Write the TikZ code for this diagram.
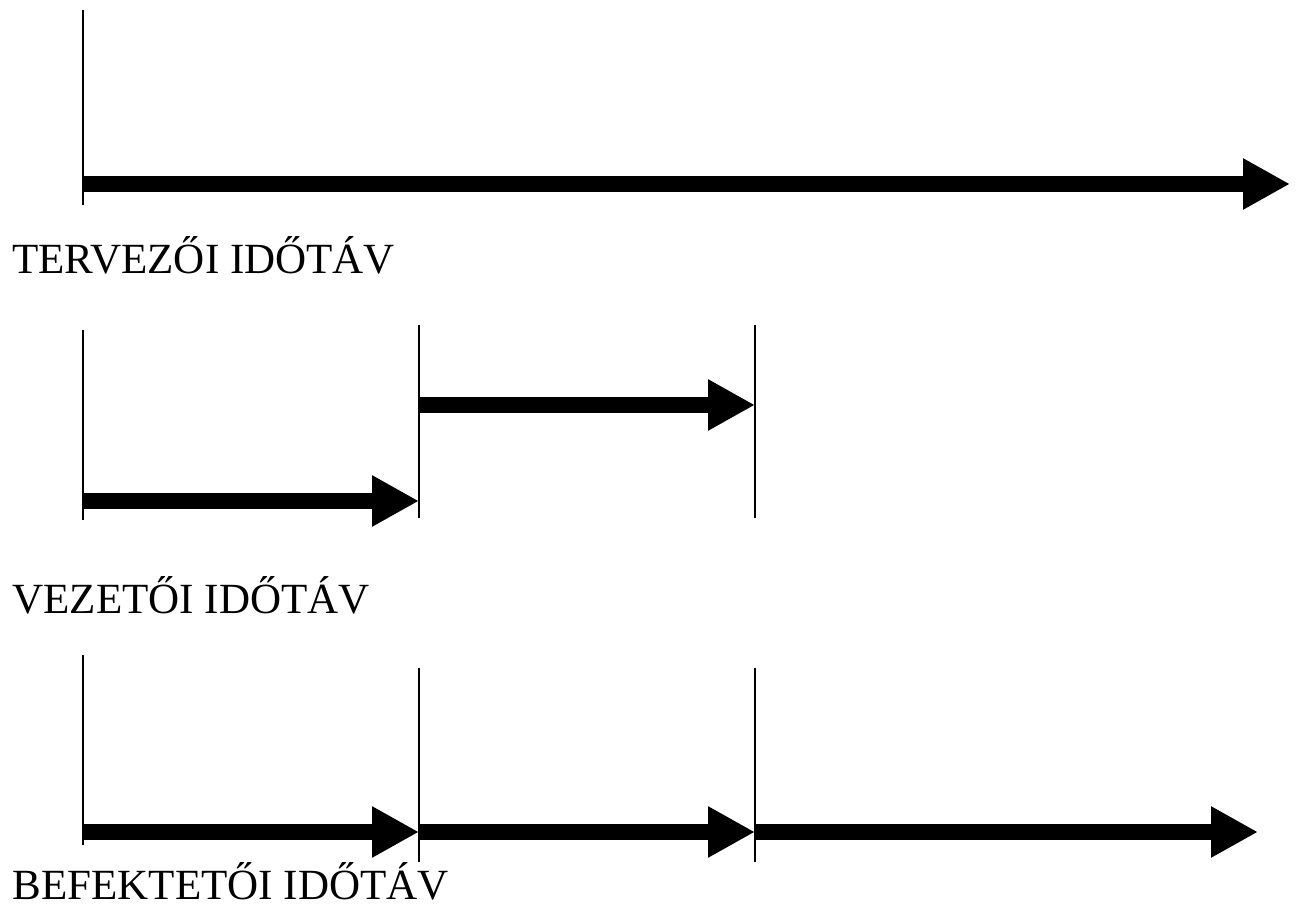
\documentclass[tikz,border=0pt]{standalone}
\usepackage{fontspec}
\setmainfont{Liberation Serif}
\usetikzlibrary{arrows.meta}

\tikzset{
    tick/.style = {line width=0.03cm},
    timearrow/.style = {line width=0.32cm,
        -{Triangle[length=0.94cm, width=0.96cm]}},
    label/.style = {anchor=base west, inner sep=0pt,
        font=\fontsize{24.5}{29}\selectfont}
}

\begin{document}
\begin{tikzpicture}
        \useasboundingbox (0,0) rectangle (25.96,18.14);
        % tervezoi
        \coordinate (T0top) at (1.66,17.94);
        \coordinate (T0bot) at (1.66,14.04);
        \coordinate (T0) at (1.66,14.46);
        \coordinate (T1) at (25.8,14.46);
        \draw[tick] (T0top) -- (T0bot);
        \draw[timearrow] (T0) -- (T1);
        \draw (0.24,12.66) node(tervezo) [label] {TERVEZŐI IDŐTÁV};
        % vezetoi
        \coordinate (V0top) at (1.66,11.54);
        \coordinate (V0bot) at (1.66,7.74);
        \coordinate (V1top) at (8.38,11.64);
        \coordinate (V1bot) at (8.38,7.78);
        \coordinate (V2top) at (15.10,11.64);
        \coordinate (V2bot) at (15.10,7.78);
        \coordinate (V0) at (1.66,8.12);
        \coordinate (V1) at (8.38,8.12);
        \coordinate (V1b) at (8.38,10.04);
        \coordinate (V2) at (15.10,10.04);
        \draw[tick] (V0top) -- (V0bot);
        \draw[tick] (V1top) -- (V1bot);
        \draw[tick] (V2top) -- (V2bot);
        \draw[timearrow] (V0) -- (V1);
        \draw[timearrow] (V1b) -- (V2);
        \draw (0.24,5.86) node(vezeto) [label] {VEZETŐI IDŐTÁV};
        % befektetoi
        \coordinate (B0top) at (1.66,5.04);
        \coordinate (B0bot) at (1.66,1.24);
        \coordinate (B1top) at (8.38,4.78);
        \coordinate (B1bot) at (8.38,0.90);
        \coordinate (B2top) at (15.10,4.78);
        \coordinate (B2bot) at (15.10,0.90);
        \coordinate (B0) at (1.66,1.50);
        \coordinate (B1) at (8.38,1.50);
        \coordinate (B2) at (15.10,1.50);
        \coordinate (B3) at (25.16,1.50);
        \draw[tick] (B0top) -- (B0bot);
        \draw[tick] (B1top) -- (B1bot);
        \draw[tick] (B2top) -- (B2bot);
        \draw[timearrow] (B0) -- (B1);
        \draw[timearrow] (B1) -- (B2);
        \draw[timearrow] (B2) -- (B3);
        \draw (0.24,0.14) node(befekteto) [label] {BEFEKTETŐI IDŐTÁV};
    \end{tikzpicture}
\end{document}
